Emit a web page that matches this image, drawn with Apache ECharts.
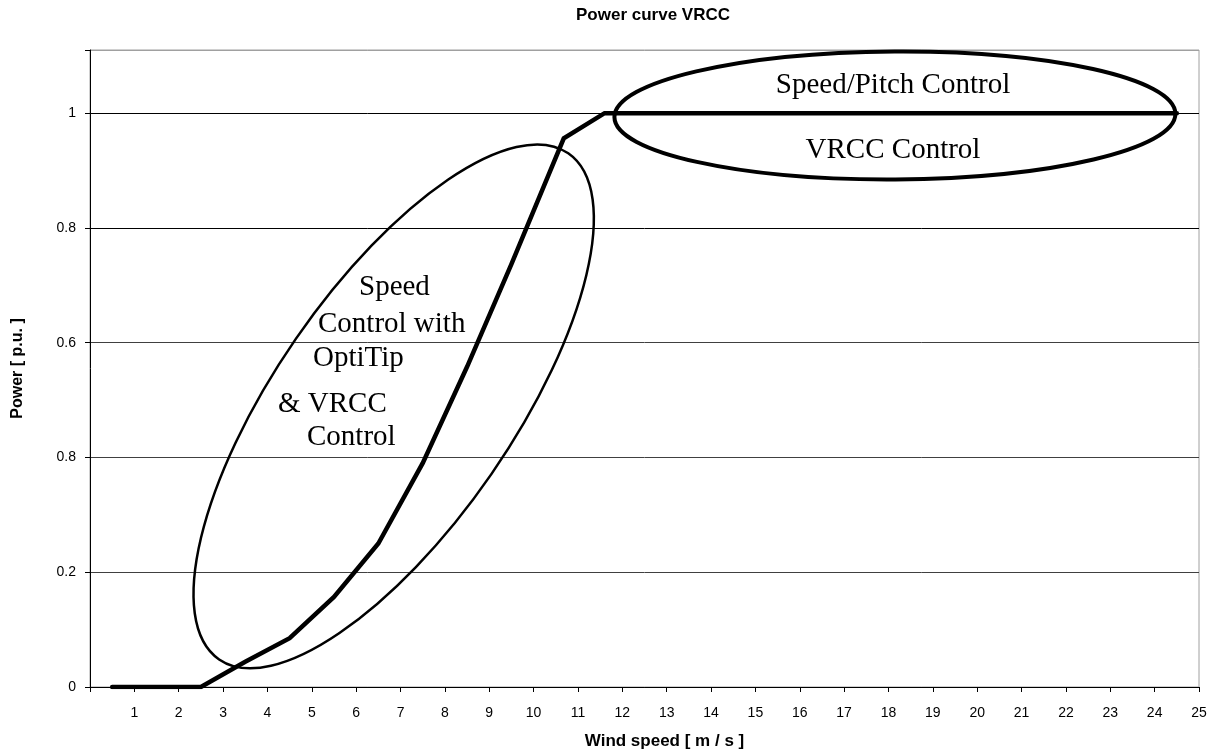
<!DOCTYPE html>
<html>
<head>
<meta charset="utf-8">
<title>Power curve VRCC</title>
<script src="https://cdn.jsdelivr.net/npm/echarts@6/dist/echarts.min.js"></script>
<style>
  html, body { margin: 0; padding: 0; background: #fff; }
  #chart { width: 1219px; height: 751px; }
</style>
</head>
<body>
<div id="chart"></div>
<script>
// Wind speed [m/s] of each point of the power curve
const windSpeed = [0.5, 1.5, 2.5, 3.5, 4.5, 5.5, 6.5, 7.5, 8.5, 9.5, 10.68, 11.6,
  12.5, 13.5, 14.5, 15.5, 16.5, 17.5, 18.5, 19.5, 20.5, 21.5, 22.5, 23.5, 24.5];
// Output power [p.u.]
const powerPu = [0, 0, 0, 0.044, 0.085, 0.157, 0.25, 0.39, 0.558, 0.737, 0.956, 1,
  1, 1, 1, 1, 1, 1, 1, 1, 1, 1, 1, 1, 1];
// Y tick labels, one per 0.2 step (as printed on the axis)
const yTickLabels = ['0', '0.2', '0.8', '0.6', '0.8', '1'];
const yStep = 0.2;

// Control-region outlines: centre (wind speed, power), semi-axes in m/s units, tilt in degrees
const regionCx = [6.846, 18.145];
const regionCy = [0.489, 0.996];
const regionA = [6.93, 6.323];
const regionB = [2.68, 1.443];
const regionTilt = [55.4, 0.35];
const regionWidth = [2.5, 4];

const chart = echarts.init(document.getElementById('chart'), null, { renderer: 'canvas' });

const curve = windSpeed.map((x, i) => [x, powerPu[i]]);
const regions = regionCx.map((x, i) => [x, regionCy[i], regionA[i], regionB[i], regionTilt[i]]);

const serif = 'Liberation Serif, Times New Roman, serif';
const sans = 'Liberation Sans, Arial, sans-serif';

function note(text, x, baseline, align) {
  return {
    type: 'text', x: x, y: baseline - 10, silent: true, z: 50,
    style: { text: text, font: '29px ' + serif, fill: '#000', align: align || 'left', verticalAlign: 'middle' }
  };
}

chart.setOption({
  animation: false,
  backgroundColor: '#fff',
  grid: {
    left: 90, right: 20, top: 50, bottom: 64, containLabel: false, outerBoundsMode: 'none',
    show: true, borderColor: '#a0a0a0', borderWidth: 1
  },
  xAxis: {
    type: 'value', min: 0, max: 25, interval: 1,
    name: 'Wind speed [ m / s ]', nameLocation: 'middle', nameGap: 46,
    nameTextStyle: { fontFamily: sans, fontSize: 17, fontWeight: 'bold', color: '#000', padding: [0, 0, 0, 40] },
    axisLine: { show: true, onZero: false, lineStyle: { color: '#000', width: 1 } },
    axisTick: { show: true, length: 5, lineStyle: { color: '#000' } },
    axisLabel: {
      fontFamily: sans, fontSize: 14, color: '#000', margin: 19,
      formatter: v => (v === 0 ? '' : String(v))
    },
    splitLine: { show: false }
  },
  yAxis: {
    type: 'value', min: 0, max: 1.11, interval: yStep,
    name: 'Power [ p.u. ]', nameLocation: 'middle', nameGap: 64,
    nameTextStyle: { fontFamily: sans, fontSize: 16, fontWeight: 'bold', color: '#000' },
    axisLine: { show: true, lineStyle: { color: '#000', width: 1 } },
    axisTick: { show: true, length: 5, lineStyle: { color: '#000' } },
    axisLabel: {
      fontFamily: sans, fontSize: 14, color: '#000', margin: 14,
      formatter: v => {
        const k = Math.round(v / yStep);
        return Math.abs(v / yStep - k) < 1e-6 && yTickLabels[k] !== undefined ? yTickLabels[k] : '';
      }
    },
    splitLine: { show: true, lineStyle: { color: ['#000', '#404040', '#404040', '#404040', '#000', '#000', '#a0a0a0'], width: 1 } }
  },
  series: [
    {
      type: 'line', data: curve, symbol: 'none', z: 5,
      lineStyle: { color: '#000', width: 4.5, cap: 'round', join: 'miter' }
    },
    {
      type: 'custom', data: regions, z: 6, silent: true, clip: false,
      renderItem: (params, api) => {
        const c = api.coord([api.value(0), api.value(1)]);
        const unit = api.size([1, 0])[0];
        return {
          type: 'ellipse',
          shape: { cx: c[0], cy: c[1], rx: api.value(2) * unit, ry: api.value(3) * unit },
          originX: c[0], originY: c[1],
          rotation: api.value(4) * Math.PI / 180,
          style: { fill: 'none', stroke: '#000', lineWidth: regionWidth[params.dataIndex] }
        };
      }
    }
  ],
  graphic: [
    { type: 'text', x: 653, y: 15, silent: true,
      style: { text: 'Power curve VRCC', font: 'bold 17px ' + sans, fill: '#000', align: 'center', verticalAlign: 'middle' } },
    note('Speed/Pitch Control', 893, 95, 'center'),
    note('VRCC Control', 893, 160, 'center'),
    note('Speed', 359, 297),
    note('Control with', 318, 334),
    note('OptiTip', 313, 368),
    note('& VRCC', 278, 414),
    note('Control', 307, 447)
  ]
});
</script>
</body>
</html>
